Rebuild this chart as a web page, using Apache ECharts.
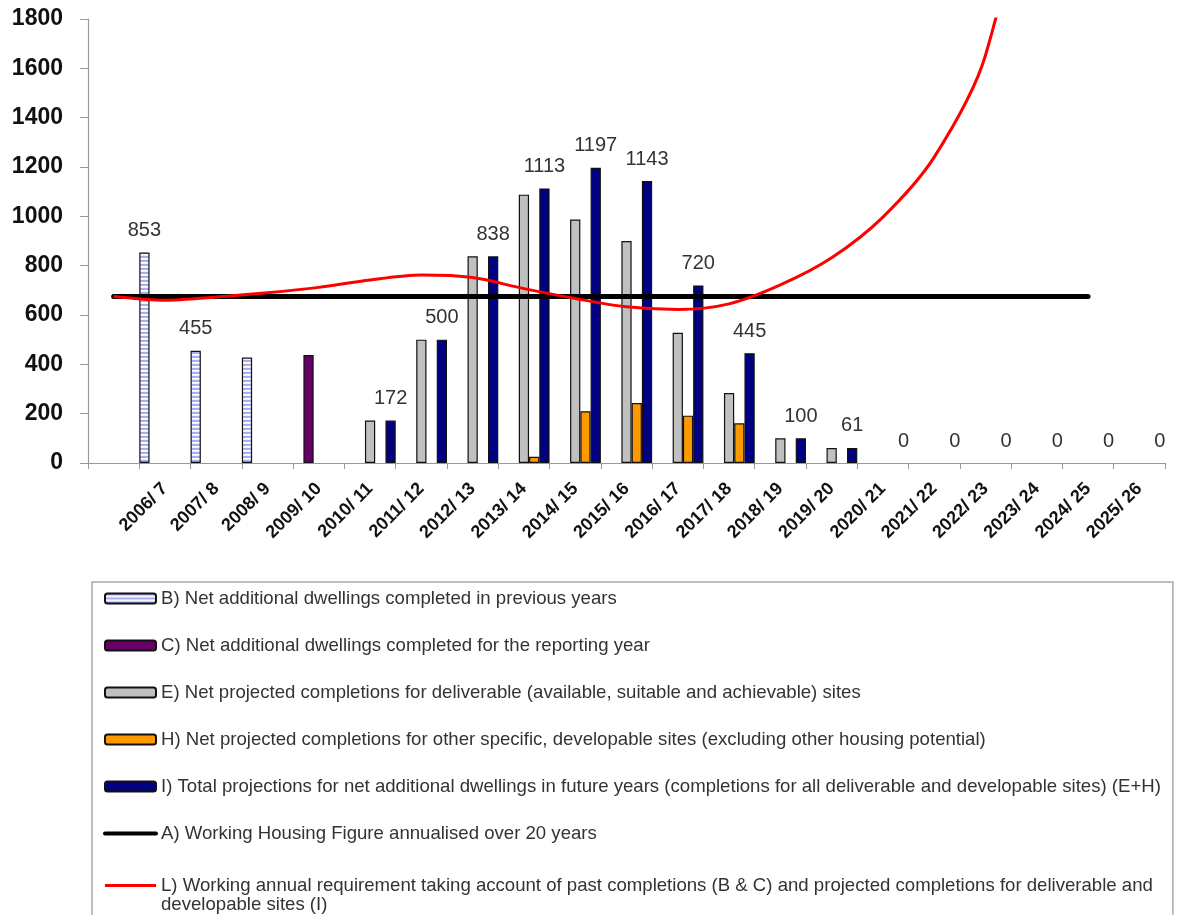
<!DOCTYPE html>
<html><head><meta charset="utf-8">
<script src="https://cdn.jsdelivr.net/npm/echarts/dist/echarts.min.js"></script>
<style>html,body{margin:0;padding:0;background:#fff;overflow:hidden}#c{width:1179px;height:960px}</style>
</head><body><div id="c"></div>
<script>
// ---- data ----
const categories = ['2006/ 7','2007/ 8','2008/ 9','2009/ 10','2010/ 11','2011/ 12','2012/ 13','2013/ 14','2014/ 15','2015/ 16','2016/ 17','2017/ 18','2018/ 19','2019/ 20','2020/ 21','2021/ 22','2022/ 23','2023/ 24','2024/ 25','2025/ 26'];
// B) completed in previous years
const prevCompleted = [853,455,428,null,null,null,null,null,null,null,null,null,null,null,null,null,null,null,null,null];
const prevUnlabelled = ['2008/ 9'];
// C) completed for the reporting year
const reportingYear = [null,null,null,438,null,null,null,null,null,null,null,null,null,null,null,null,null,null,null,null];
// E) deliverable sites
const deliverable = [null,null,null,null,172,500,838,1088,987,900,528,284,100,61,0,0,0,0,0,0];
// H) other developable sites
const developable = [null,null,null,null,0,0,0,25,210,243,192,161,0,0,0,0,0,0,0,0];
// I) total projections (E+H)
const totalProjections = [null,null,null,null,172,500,838,1113,1197,1143,720,445,100,61,0,0,0,0,0,0];
// A) working housing figure
const housingFigure = [675,675,675,675,675,675,675,675,675,675,675,675,675,675,675,675,675,675,675,675];
// L) working annual requirement
const requirement = [675,660,673,690,712,742,762,752,707,667,633,622,645,722,832,997,1240,1653,2650,5000];
const yTicks = [0,200,400,600,800,1000,1200,1400,1600,1800];

const names = {
  B: 'B) Net additional dwellings completed in previous years',
  C: 'C) Net additional dwellings completed for the reporting year',
  E: 'E) Net projected completions for deliverable (available, suitable and achievable) sites',
  H: 'H) Net projected completions for other specific, developable sites (excluding other housing potential)',
  I: 'I) Total projections for net additional dwellings in future years (completions for all deliverable and developable sites) (E+H)',
  A: 'A) Working Housing Figure annualised over 20 years',
  L: 'L) Working annual requirement taking account of past completions (B & C) and projected completions for deliverable and developable sites (I)'
};
const lLine1 = 'L) Working annual requirement taking account of past completions (B & C) and projected completions for deliverable and';
const lLine2 = 'developable sites (I)';

// ---- pattern for B ----
const pc = document.createElement('canvas');
pc.width = 4; pc.height = 4;
const pctx = pc.getContext('2d');
pctx.fillStyle = '#eef0ff'; pctx.fillRect(0,0,4,4);
pctx.fillStyle = '#a9aef0'; pctx.fillRect(0,0,4,2);
pctx.fillStyle = '#ffffff'; pctx.fillRect(0,2,4,1);
const bPattern = { image: pc, repeat: 'repeat' };

const xData = [''].concat(categories);
function barData(arr, labelled) {
  return [null].concat(arr.map(function (v, i) {
    if (v === null) return null;
    const item = { value: v };
    if (v === 0) item.itemStyle = { borderWidth: 0 };
    if (labelled && !labelled(i)) item.label = { show: false };
    return item;
  }));
}
function lineData(arr) { return arr.concat([null]); }

const FONT = 'Liberation Sans, Arial, sans-serif';
const LEG_FONT = 18.6;
const labelStyle = { show: true, position: 'top', distance: 12, fontFamily: FONT, fontSize: 20, color: '#333' };

function bar(name, data, color, label) {
  return {
    name: name, type: 'bar', data: data,
    barGap: '0%', barCategoryGap: '0%',
    itemStyle: { color: color, borderColor: '#111', borderWidth: 1.2 },
    label: label || { show: false },
    emphasis: { disabled: true },
    animation: false, z: 2
  };
}

const chart = echarts.init(document.getElementById('c'), null, { renderer: 'canvas' });
chart.setOption({
  animation: false,
  backgroundColor: '#fff',
  grid: { left: 88, right: 14, top: 19, bottom: 497, containLabel: false },
  xAxis: {
    type: 'category', data: xData, boundaryGap: true,
    axisLine: { lineStyle: { color: '#999', width: 1.2 } },
    axisTick: { show: true, alignWithLabel: false, interval: 0, length: 6, lineStyle: { color: '#999' } },
    axisLabel: { interval: 0, rotate: 45, margin: 23, fontFamily: FONT, fontWeight: 'bold', fontSize: 18, color: '#111' },
    splitLine: { show: false }
  },
  yAxis: {
    type: 'value', min: yTicks[0], max: yTicks[yTicks.length - 1], interval: yTicks[1] - yTicks[0],
    axisLine: { show: true, lineStyle: { color: '#999', width: 1.2 } },
    axisTick: { show: true, length: 8, lineStyle: { color: '#999' } },
    axisLabel: { margin: 25, fontFamily: FONT, fontWeight: 'bold', fontSize: 23, color: '#111', formatter: function (v) { return String(v); } },
    splitLine: { show: false }
  },
  legend: {
    orient: 'vertical', left: 92, top: 582,
    padding: [6, 12, 40, 11],
    itemGap: 26, itemWidth: 51, itemHeight: 10,
    borderColor: '#aaa', borderWidth: 1.5,
    textStyle: { fontFamily: FONT, fontSize: LEG_FONT, color: '#333', lineHeight: 21 },
    formatter: function (n) { return n === names.L ? lLine1 : n; },
    data: [
      names.B, names.C, names.E, names.H, names.I,
      { name: names.A, itemStyle: { color: 'rgba(0,0,0,0)', borderWidth: 0 }, lineStyle: { width: 4, color: '#000' } },
      { name: names.L, itemStyle: { color: 'rgba(0,0,0,0)', borderWidth: 0 }, lineStyle: { width: 3, color: '#ff0000' },
        textStyle: { padding: [5, 0, 5, 0] } }
    ],
    selectedMode: false
  },
  graphic: [{
    type: 'text', left: 161, top: 895, silent: true,
    style: { text: lLine2, font: LEG_FONT + 'px ' + FONT, fill: '#333' }
  }],
  series: [
    bar(names.B, barData(prevCompleted, function (i) { return prevUnlabelled.indexOf(categories[i]) < 0; }), bPattern, labelStyle),
    bar(names.C, barData(reportingYear), '#660066'),
    bar(names.E, barData(deliverable), '#c0c0c0'),
    bar(names.H, barData(developable), '#ff9900'),
    bar(names.I, barData(totalProjections), '#000080', labelStyle),
    {
      name: names.A, type: 'line', data: lineData(housingFigure),
      symbol: 'none', showSymbol: false, z: 5,
      lineStyle: { color: '#000', width: 5, cap: 'round' },
      itemStyle: { color: '#000' },
      emphasis: { disabled: true }
    },
    {
      name: names.L, type: 'line', data: lineData(requirement),
      symbol: 'none', showSymbol: false, smooth: 0.3, clip: true, z: 6,
      lineStyle: { color: '#ff0000', width: 3 },
      itemStyle: { color: '#ff0000' },
      emphasis: { disabled: true }
    }
  ]
});
</script>
</body></html>
